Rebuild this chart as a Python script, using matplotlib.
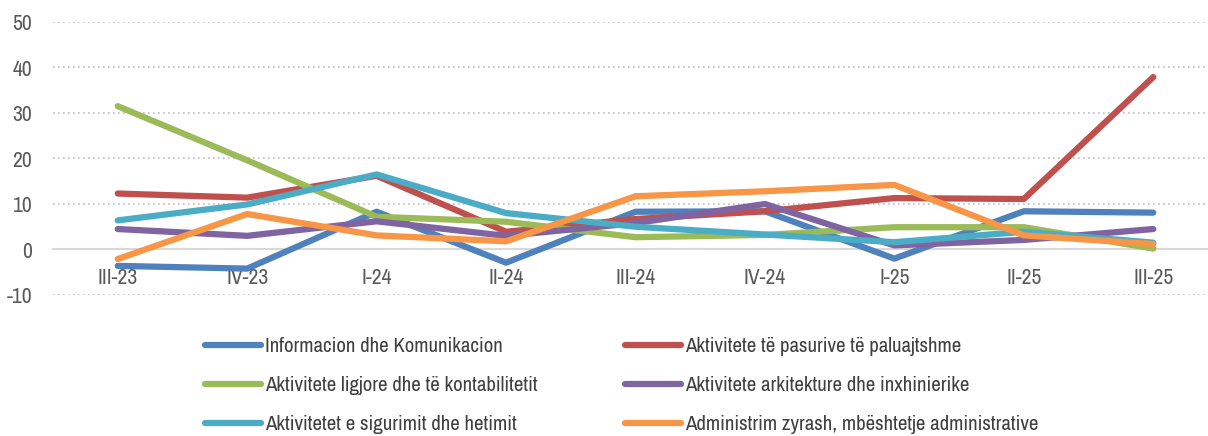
import matplotlib
matplotlib.use("Agg")
import matplotlib.pyplot as plt
from matplotlib import font_manager

# kerkojme nje font te ngushte (Arial Narrow), perndryshe Liberation Sans me madhesi me te vogel
narrow = None
for f in font_manager.fontManager.ttflist:
    if "Narrow" in f.name or "Narrow" in f.fname:
        narrow = f.name
        break
if narrow:
    plt.rcParams["font.family"] = [narrow, "DejaVu Sans"]
    fs_tick, fs_leg = 15.5, 15
else:
    plt.rcParams["font.family"] = ["Liberation Sans", "DejaVu Sans"]
    fs_tick, fs_leg = 13, 12.6
plt.rcParams["axes.unicode_minus"] = False

# data
kuartalet = ["III-23", "IV-23", "I-24", "II-24", "III-24", "IV-24", "I-25", "II-25", "III-25"]
info_kom = [-3.6, -4.2, 8.3, -2.9, 8.3, 8.4, -2.0, 8.4, 8.1]
pasuri = [12.3, 11.4, 16.2, 3.9, 6.7, 8.4, 11.3, 11.1, 37.9]
ligjore = [31.5, 19.6, 7.2, 6.1, 2.7, 3.2, 4.9, 4.9, 0.2]
arkitekture = [4.5, 3.0, 6.2, 3.0, 5.8, 10.0, 0.9, 2.1, 4.5]
sigurimi = [6.4, 9.9, 16.5, 8.0, 5.0, 3.3, 1.6, 3.9, 1.5]
administrim = [-2.1, 7.8, 3.1, 1.8, 11.7, 12.8, 14.2, 3.1, 1.2]

seri = [
    ("Informacion dhe Komunikacion", info_kom, "#4F81BD"),
    ("Aktivitete të pasurive të paluajtshme", pasuri, "#C0504D"),
    ("Aktivitete ligjore dhe të kontabilitetit", ligjore, "#9BBB59"),
    ("Aktivitete arkitekture dhe inxhinierike", arkitekture, "#8064A2"),
    ("Aktivitetet e sigurimit dhe hetimit", sigurimi, "#4BACC6"),
    ("Administrim zyrash, mbështetje administrative", administrim, "#F79646"),
]

fig = plt.figure(figsize=(12.08, 4.36), dpi=100)
ax = fig.add_axes([53 / 1208, 1 - 295 / 436, 1165 / 1208, 273 / 436])

x = list(range(len(kuartalet)))
handles = {}
for emri, vlerat, ngjyra in seri:
    (h,) = ax.plot(x, vlerat, color=ngjyra, lw=4.5, solid_capstyle="round",
                   solid_joinstyle="round", label=emri, zorder=3)
    handles[emri] = h

ax.set_xlim(-0.5, 8.5)
ax.set_ylim(-10, 50)
ax.set_yticks(range(-10, 51, 10))
ax.set_xticks(x)
ax.set_xticklabels(kuartalet)

ax.grid(axis="y", color="#BFBFBF", linestyle=(0, (1, 2)), lw=1.2, zorder=0)
for s in ["top", "right", "left"]:
    ax.spines[s].set_visible(False)
ax.spines["bottom"].set_position(("data", 0))
ax.spines["bottom"].set_color("#D9D9D9")
ax.spines["bottom"].set_linewidth(1.5)
ax.spines["bottom"].set_zorder(2)

ax.tick_params(axis="y", length=0, pad=15, labelsize=fs_tick, labelcolor="#595959")
ax.tick_params(axis="x", length=0, pad=13, labelsize=fs_tick, labelcolor="#595959")

# legjenda ne dy kolona si ne Excel
emrat = [s[0] for s in seri]
kol1 = [emrat[0], emrat[2], emrat[4]]
kol2 = [emrat[1], emrat[3], emrat[5]]
opts = dict(frameon=False, loc="upper left", fontsize=fs_leg, handlelength=2.7,
            handletextpad=0.2, labelspacing=0.96, borderpad=0, borderaxespad=0,
            bbox_transform=fig.transFigure, labelcolor="#404040")
leg1 = fig.legend([handles[n] for n in kol1], kol1,
                  bbox_to_anchor=(205 / 1208, 1 - 337 / 436), **opts)
leg2 = fig.legend([handles[n] for n in kol2], kol2,
                  bbox_to_anchor=(625 / 1208, 1 - 337 / 436), **opts)

fig.savefig("out.png", dpi=100)
